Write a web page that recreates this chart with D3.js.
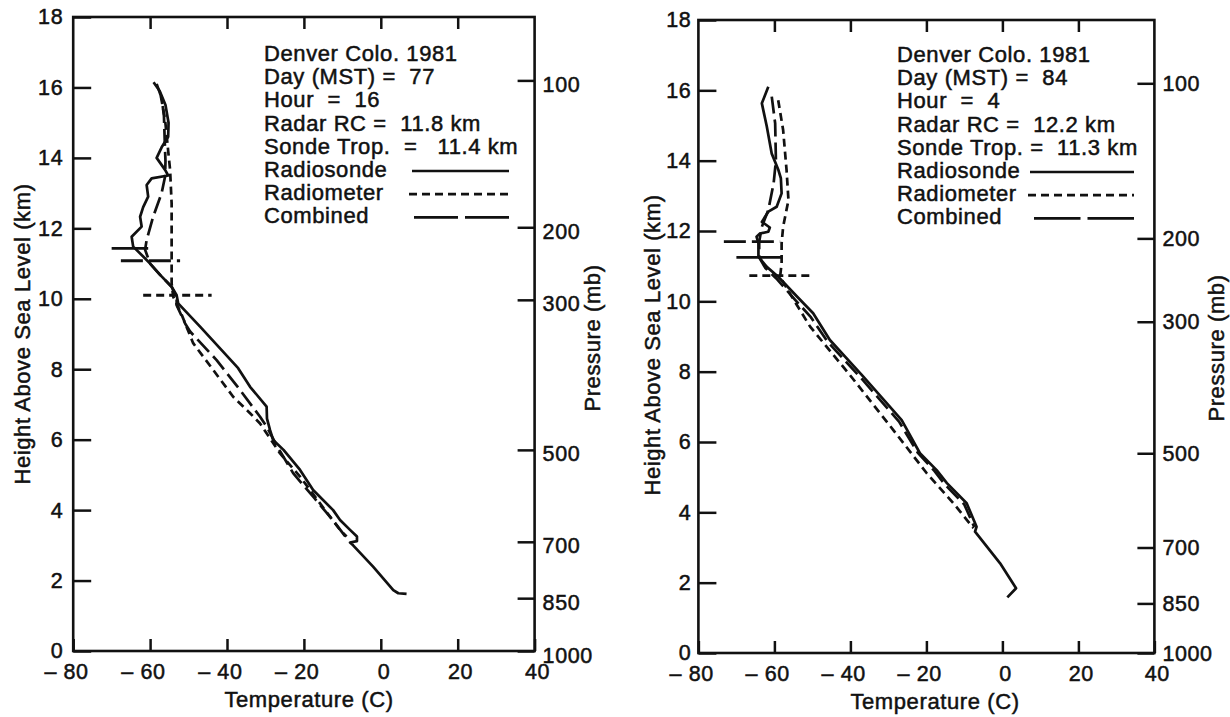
<!DOCTYPE html>
<html><head><meta charset="utf-8">
<script src="https://cdn.jsdelivr.net/npm/d3@7"></script>
<style>
body{margin:0;background:#fff;}
svg text{font-family:"Liberation Sans",Arial,Helvetica,sans-serif;fill:#111;stroke:#111;stroke-width:0.5px;letter-spacing:0.6px;}
</style></head><body>
<svg id="c" width="1230" height="717"></svg>
<script>
// ---------------- data ----------------
const tempTicks = [-80, -60, -40, -20, 0, 20, 40];
const tempTopTicks = [-60, -40, -20, 0, 20];
const heightTicks = [0, 2, 4, 6, 8, 10, 12, 14, 16, 18];
const pressureTicks = [100, 200, 300, 500, 700, 850, 1000];
// heights (km) at which each pressure tick is drawn
const day77PressureHeights = [16.2, 12.03, 9.97, 5.71, 3.10, 1.50, 0];
const day84PressureHeights = [16.2, 11.79, 9.42, 5.68, 3.00, 1.41, 0];

const seriesNames = ["Radiosonde", "Radiometer", "Combined"];

const NB = "\u00a0";
const day77Info = ["Denver Colo. 1981", "Day (MST) =" + NB + NB + "77", "Hour" + NB + NB + "=" + NB + NB + "16",
  "Radar RC =" + NB + NB + "11.8 km", "Sonde Trop." + NB + NB + "=" + NB + NB + NB + "11.4 km"];
const day84Info = ["Denver Colo. 1981", "Day (MST) =" + NB + NB + "84", "Hour" + NB + NB + "=" + NB + NB + "4",
  "Radar RC" + NB + "=" + NB + NB + "12.2 km", "Sonde Trop." + NB + "=" + NB + NB + "11.3 km"];

// [temperature C, height km]
const day77Radiosonde = [[-59.1,16.15],[-57.5,15.9],[-56.0,15.5],[-55.2,15.0],[-55.3,14.6],[-57.0,14.3],[-58.3,14.0],[-56.1,13.66],[-55.3,13.5],[-59.6,13.42],[-60.9,13.23],[-60.5,12.9],[-61.8,12.6],[-62.6,12.33],[-62.2,12.05],[-64.8,11.76],[-64.4,11.48],[-61.8,11.2],[-60.0,11.0],[-57.4,10.68],[-54.4,10.34],[-53.1,10.1],[-52.7,9.87],[-47.0,9.21],[-37.1,8.03],[-34.0,7.5],[-29.7,6.94],[-29.6,6.6],[-28.8,6.27],[-28.0,5.99],[-25.3,5.71],[-21.0,5.14],[-17.6,4.57],[-12.4,4.0],[-10.6,3.72],[-8.0,3.44],[-6.2,3.25],[-6.2,3.12],[-8.0,3.08],[-7.2,3.0],[-1.95,2.39],[3.25,1.73],[4.55,1.64],[6.7,1.62]];
const day77Radiometer = [[-57.2,15.75],[-56.1,15.08],[-55.3,14.2],[-54.8,13.66],[-54.4,12.7],[-54.4,11.57],[-54.4,10.44],[-54.0,10.06],[-51.8,9.55],[-48.8,8.74],[-43.6,7.98],[-38.4,7.22],[-34.0,6.75],[-31.4,6.46],[-26.2,5.61],[-21.0,4.95],[-15.8,4.19],[-10.6,3.44],[-8.9,3.25]];
const day77Combined = [[-58.3,16.1],[-57.0,15.7],[-56.4,15.2],[-56.2,14.5],[-56.0,13.9],[-56.1,13.47],[-57.0,13.0],[-59.2,12.33],[-60.9,11.67],[-61.3,11.39],[-60.0,11.0],[-57.4,10.68],[-54.4,10.34],[-53.1,10.05],[-53.1,9.82],[-50.9,9.3],[-49.6,9.07],[-42.7,8.26],[-36.6,7.41],[-31.4,6.65],[-29.7,6.37],[-27.0,5.82],[-22.8,5.05],[-17.2,4.33],[-12.0,3.65],[-9.2,3.25]];
// tropopause markers: [height km, T start, T end]
const day77RadiosondeTrop = [11.43, -70.0, -60.5];
const day77CombinedTrop = [11.08, -67.6, -52.2];
const day77RadiometerTrop = [10.10, -61.8, -44.0];

const day84Radiosonde = [[-61.6,16.1],[-63.3,15.63],[-62.0,14.97],[-60.7,14.2],[-59.0,13.75],[-58.3,13.5],[-58.1,13.07],[-59.4,12.69],[-61.6,12.55],[-63.3,12.26],[-61.2,12.1],[-61.6,11.98],[-63.8,11.93],[-64.7,11.84],[-64.2,11.65],[-64.2,11.27],[-62.0,10.98],[-59.0,10.7],[-54.0,10.13],[-49.8,9.66],[-45.4,8.9],[-36.6,7.86],[-26.5,6.62],[-21.7,5.68],[-17.3,5.2],[-14.6,4.83],[-9.4,4.26],[-6.8,3.59],[-7.2,3.45],[-0.6,2.55],[3.6,1.84],[1.3,1.58]];
const day84Radiometer = [[-59.0,15.72],[-57.7,14.87],[-56.8,13.73],[-56.3,12.88],[-57.7,12.12],[-58.1,11.65],[-58.1,11.08],[-58.5,10.7],[-55.8,10.2],[-50.6,9.28],[-40.1,7.9],[-28.7,6.34],[-19.9,5.11],[-12.9,4.26],[-7.6,3.55]];
const day84Combined = [[-60.7,15.82],[-59.8,15.06],[-59.6,14.0],[-60.2,13.36],[-61.6,12.6],[-63.3,12.12],[-64.0,11.7],[-64.0,11.25],[-62.4,10.95],[-59.5,10.65],[-54.6,10.05],[-50.4,9.55],[-46.0,8.85],[-37.2,7.82],[-27.2,6.58],[-22.3,5.7],[-17.9,5.18],[-15.2,4.8],[-10.0,4.22],[-7.4,3.58]];
const day84CombinedTrop = [11.70, -73.3, -58.5];
const day84RadiosondeTrop = [11.25, -70.0, -58.1];
const day84RadiometerTrop = [10.73, -66.6, -50.4];

// ---------------- drawing ----------------
const FS = 22, TFS = 21.5;
const dash = {Radiosonde: null, Radiometer: "8,5", Combined: "17,6"};
const svg = d3.select("#c");
svg.append("rect").attr("width", 1230).attr("height", 717).attr("fill", "#fff");

const panels = [
  {left: 73.2, right: 534.6, top: 17, bottom: 651, yPad: 10, pPad: 8, pDy: 4,
   pressureHeights: day77PressureHeights, info: day77Info,
   series: {Radiosonde: day77Radiosonde, Radiometer: day77Radiometer, Combined: day77Combined},
   trops: [["Radiosonde", day77RadiosondeTrop], ["Combined", day77CombinedTrop], ["Radiometer", day77RadiometerTrop]],
   legendX: 264, legendY: 61, sampleStart: [412, 409, 414], sampleEnd: 509,
   xTitle: [309, 707], yTitle: [30, 334], pTitle: [600, 338]},
  {left: 698.4, right: 1154.4, top: 20, bottom: 653, yPad: 7, pPad: 8, pDy: 0,
   pressureHeights: day84PressureHeights, info: day84Info,
   series: {Radiosonde: day84Radiosonde, Radiometer: day84Radiometer, Combined: day84Combined},
   trops: [["Combined", day84CombinedTrop], ["Radiosonde", day84RadiosondeTrop], ["Radiometer", day84RadiometerTrop]],
   legendX: 897, legendY: 62, sampleStart: [1030, 1028, 1034], sampleEnd: 1134,
   xTitle: [935, 709], yTitle: [660, 345], pTitle: [1224, 348]}
];

function styleAxis(g) {
  g.select(".domain").remove();
  g.selectAll(".tick line").attr("stroke", "#111").attr("stroke-width", 2.5);
  g.selectAll(".tick text").attr("font-size", TFS).attr("fill", "#111");
}

panels.forEach(p => {
  const x = d3.scaleLinear().domain([-80, 40]).range([p.left, p.right]);
  const y = d3.scaleLinear().domain([0, 18]).range([p.bottom, p.top]);
  const pz = d3.scaleLinear().domain(pressureTicks).range(p.pressureHeights.map(y));
  const g = svg.append("g");

  // left height axis
  g.append("g").attr("transform", `translate(${p.left},0)`)
    .call(d3.axisLeft(y).tickValues(heightTicks).tickSizeInner(-18).tickSizeOuter(0).tickPadding(p.yPad).tickFormat(d3.format("d")))
    .call(styleAxis);

  // right pressure axis
  const pa = g.append("g").attr("transform", `translate(${p.right},0)`)
    .call(d3.axisRight(pz).tickValues(pressureTicks).tickSizeInner(-17).tickSizeOuter(0).tickPadding(p.pPad).tickFormat(d3.format("d")))
    .call(styleAxis);
  pa.selectAll(".tick text").attr("dy", (0.33 * TFS + p.pDy) + "px");

  // top ticks
  g.append("g").attr("transform", `translate(0,${p.top})`)
    .call(d3.axisTop(x).tickValues(tempTopTicks).tickSizeInner(-12).tickSizeOuter(0).tickFormat(""))
    .call(styleAxis);

  // bottom temperature axis
  const ba = g.append("g").attr("transform", `translate(0,${p.bottom})`)
    .call(d3.axisBottom(x).tickValues(tempTicks).tickSizeInner(-12).tickSizeOuter(0).tickPadding(13)
      .tickFormat(d => d < 0 ? "\u2013 " + Math.abs(d) : String(d)))
    .call(styleAxis);
  ba.selectAll(".tick text").each(function(d) {
    const digits = String(Math.abs(d)).length;
    const w = digits * 0.556 * TFS;
    d3.select(this).attr("text-anchor", "end").attr("x", w / 2 + 3);
  });

  // frame
  g.append("rect").attr("x", p.left).attr("y", p.top)
    .attr("width", p.right - p.left).attr("height", p.bottom - p.top)
    .attr("fill", "none").attr("stroke", "#111").attr("stroke-width", 2.6);

  // curves
  const line = d3.line().x(d => x(d[0])).y(d => y(d[1]));
  ["Radiometer", "Combined", "Radiosonde"].forEach(name => {
    g.append("path").datum(p.series[name]).attr("d", line)
      .attr("fill", "none").attr("stroke", "#111").attr("stroke-width", 2.7)
      .attr("stroke-linejoin", "round")
      .attr("stroke-dasharray", dash[name]);
  });

  // tropopause markers
  p.trops.forEach(([name, t]) => {
    g.append("line").attr("x1", x(t[1])).attr("x2", x(t[2])).attr("y1", y(t[0])).attr("y2", y(t[0]))
      .attr("stroke", "#111").attr("stroke-width", 2.8).attr("stroke-dasharray", name === "Combined" ? "22,6" : dash[name]);
  });

  // legend
  const lines = p.info.concat(seriesNames);
  lines.forEach((s, i) => {
    g.append("text").attr("x", p.legendX).attr("y", p.legendY + i * 23.2)
      .attr("font-size", FS).text(s);
  });
  seriesNames.forEach((name, i) => {
    const yy = p.legendY + (i + 5) * 23.2 - 6;
    const x0 = p.sampleStart[i], x1 = p.sampleEnd;
    let da = dash[name];
    if (name === "Combined") { const L = x1 - x0; da = ((L - 7) / 2) + ",7"; }
    g.append("line").attr("x1", x0).attr("x2", x1).attr("y1", yy).attr("y2", yy)
      .attr("stroke", "#111").attr("stroke-width", 2.7).attr("stroke-dasharray", da);
  });

  // titles
  g.append("text").attr("x", p.xTitle[0]).attr("y", p.xTitle[1]).attr("text-anchor", "middle")
    .attr("font-size", FS).text("Temperature (C)");
  g.append("text").attr("transform", `translate(${p.yTitle[0]},${p.yTitle[1]}) rotate(-90)`)
    .attr("text-anchor", "middle").attr("font-size", FS).text("Height Above Sea Level (km)");
  g.append("text").attr("transform", `translate(${p.pTitle[0]},${p.pTitle[1]}) rotate(-90)`)
    .attr("text-anchor", "middle").attr("font-size", FS).text("Pressure (mb)");
});
</script>
</body></html>
